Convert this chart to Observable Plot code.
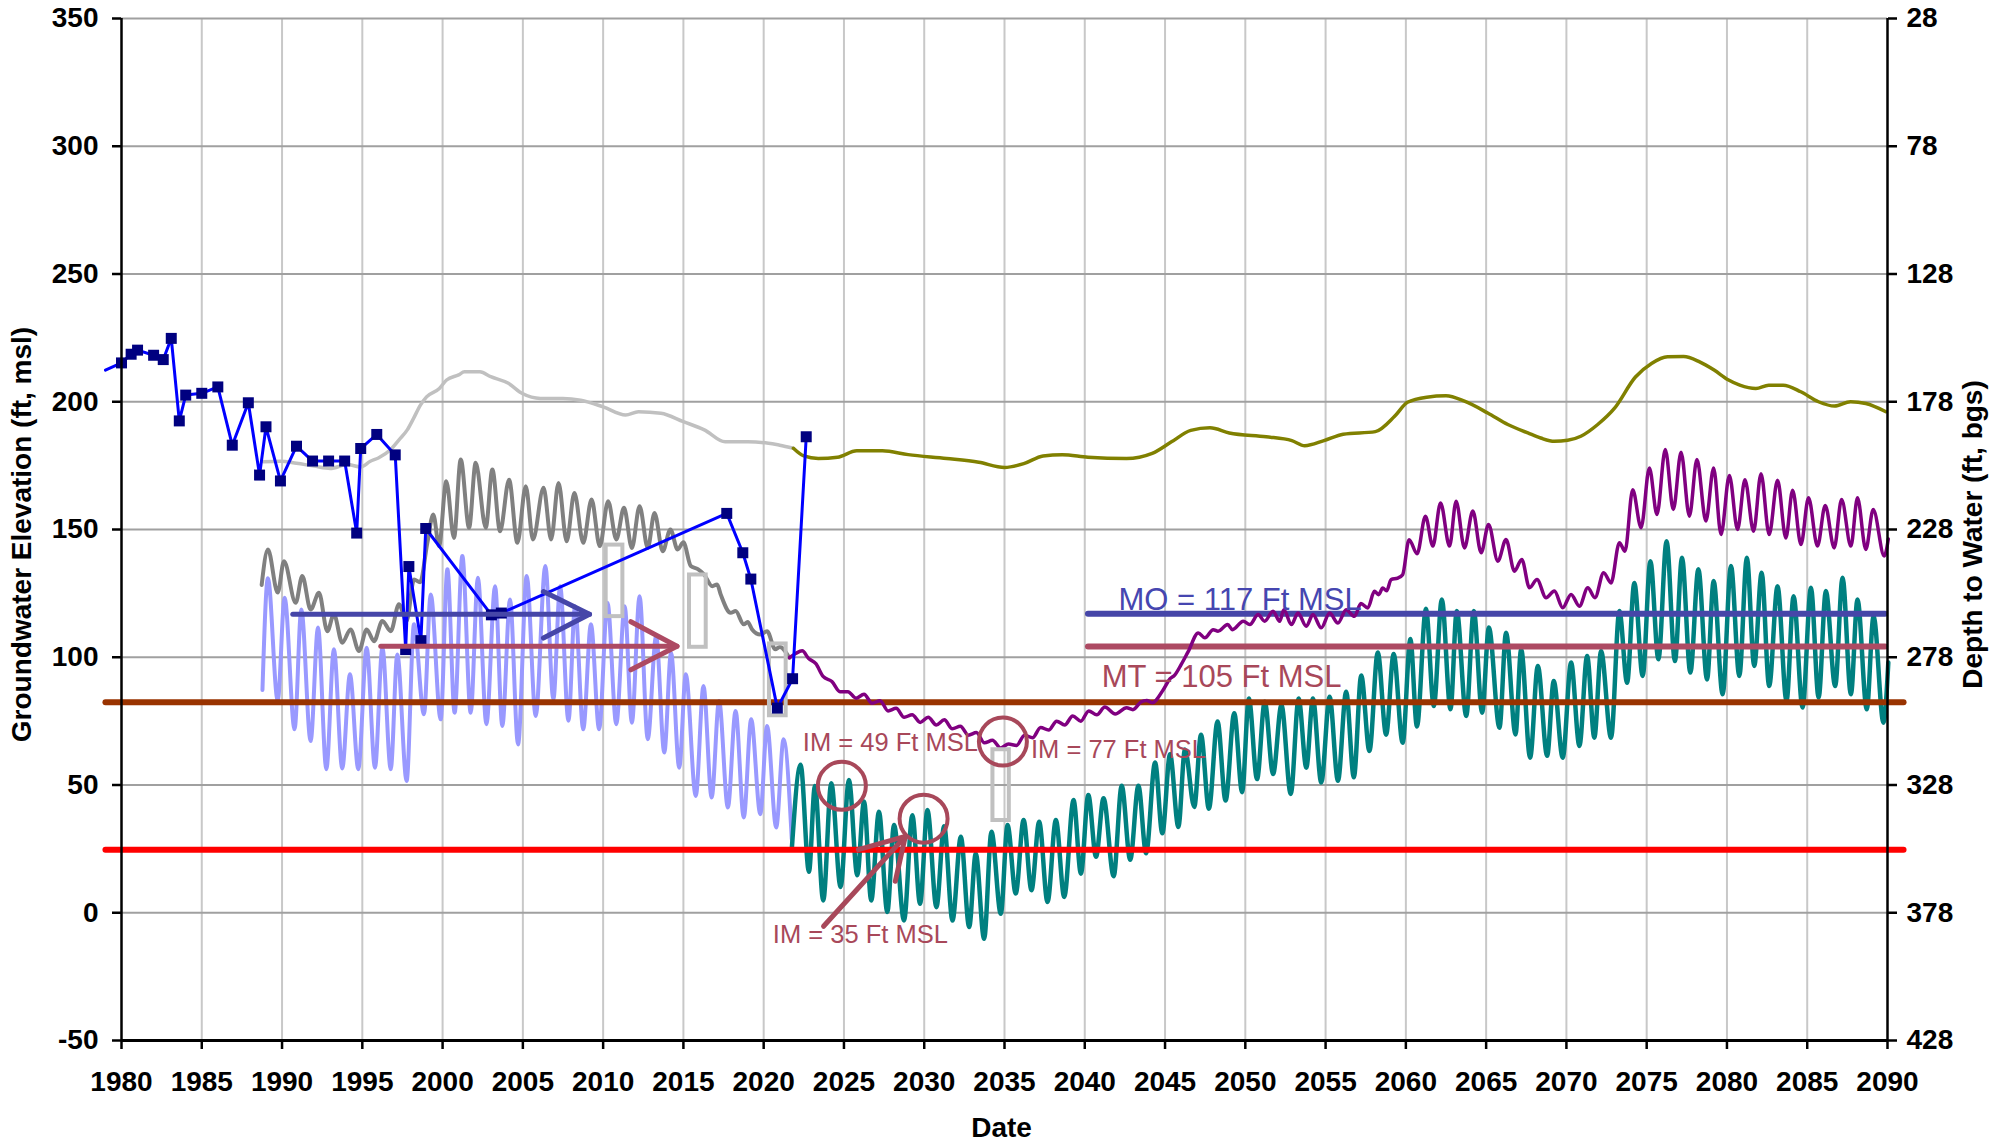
<!DOCTYPE html>
<html><head><meta charset="utf-8">
<script src="https://cdn.jsdelivr.net/npm/d3@7"></script>
<script src="https://cdn.jsdelivr.net/npm/@observablehq/plot@0.6"></script>
<style>
html,body{margin:0;padding:0;background:#fff;}
#chart svg{display:block;}
</style></head><body><div id="chart"></div>
<script>
// ---- axes / ticks ----
const xTicks = [1980,1985,1990,1995,2000,2005,2010,2015,2020,2025,2030,2035,2040,2045,2050,2055,2060,2065,2070,2075,2080,2085,2090];
const yTicks = [-50,0,50,100,150,200,250,300,350];
const depthTickLabels = ["428","378","328","278","228","178","128","78","28"];

// ---- observed groundwater elevation (line + square markers) ----
const observedStart = [[1979.0,212.4]];
const observed = [[1980.0,215.2],[1980.6,218.6],[1981.0,220.2],[1982.0,218.2],[1982.6,216.5],[1983.1,224.8],[1983.6,192.5],[1984.0,202.6],[1985.0,203.3],[1986.0,205.8],[1986.9,183.0],[1987.9,199.6],[1988.6,171.3],[1989.0,190.2],[1989.9,169.0],[1990.9,182.6],[1991.9,176.8],[1992.9,176.8],[1993.9,176.8],[1994.65,148.6],[1994.9,181.7],[1995.9,187.2],[1997.05,179.2],[1997.7,103.0],[1997.9,135.5],[1998.65,106.5],[1998.95,150.4],[2003.04,116.6],[2003.66,117.3],[2017.7,156.3],[2018.7,140.9],[2019.2,130.6],[2020.85,80.1],[2021.8,91.6],[2022.65,186.3]];

// ---- historical simulated (light gray) and projected (olive) ----
const histSmooth = [[1988.84,176.5],[1989.9,176.7],[1990.9,175.9],[1992.0,174.8],[1993.0,173.9],[1994.07,175.4],[1994.9,174.5],[1995.5,176.7],[1996.0,178.0],[1996.77,181.3],[1997.3,185.2],[1997.8,189.0],[1998.2,193.6],[1998.6,198.5],[1999.0,201.9],[1999.8,205.2],[2000.25,208.5],[2001.0,210.5],[2001.36,211.7],[2002.33,211.7],[2003.0,209.8],[2004.1,207.2],[2004.97,203.2],[2006.1,201.3],[2007.5,201.3],[2008.6,200.6],[2010.0,198.0],[2011.4,194.8],[2012.2,196.1],[2013.6,195.5],[2015.0,192.2],[2016.3,189.0],[2017.6,184.3],[2019.0,184.3],[2020.3,183.8],[2021.0,183.0],[2021.85,181.8]];
const projSmooth = [[2021.85,181.8],[2022.5,178.8],[2023.4,177.8],[2024.6,178.3],[2025.8,180.8],[2027.4,180.8],[2029.0,179.3],[2031.4,177.8],[2033.4,176.3],[2035.0,174.3],[2036.2,175.8],[2037.4,178.8],[2038.6,179.3],[2040.2,178.3],[2042.6,177.8],[2044.2,179.8],[2045.4,184.3],[2046.6,188.8],[2047.8,189.8],[2049.0,187.8],[2051.3,186.3],[2052.9,184.8],[2053.7,182.8],[2054.9,184.8],[2056.1,187.3],[2058.1,188.3],[2059.3,194.3],[2060.1,199.8],[2061.3,201.8],[2062.5,202.3],[2063.65,200.2],[2065.1,195.6],[2066.35,191.1],[2067.6,187.8],[2068.4,185.8],[2069.25,184.5],[2070.08,184.9],[2070.9,186.5],[2071.95,191.1],[2073.0,197.5],[2074.3,209.7],[2075.3,215.0],[2076.3,217.6],[2077.3,217.7],[2078.3,215.6],[2079.2,212.4],[2080.1,208.5],[2080.8,206.5],[2081.8,205.2],[2082.6,206.5],[2083.5,206.5],[2084.6,203.9],[2085.7,200.0],[2086.7,198.3],[2087.7,200.0],[2088.65,199.3],[2089.9,196.1]];

// ---- historical simulated, seasonal (dark gray) and projected (purple) ----
const histGray = [[1988.73,128.3],[1989.12,142.2],[1989.73,125.3],[1990.12,137.6],[1990.85,121.3],[1991.26,131.8],[1991.78,118.7],[1992.3,125.2],[1992.82,110.2],[1993.23,116.8],[1993.75,105.7],[1994.27,110.9],[1994.79,102.4],[1995.27,110.9],[1995.73,106.3],[1996.25,114.2],[1996.77,110.2],[1997.28,120.7],[1997.76,114.2],[1998.22,130.4],[1998.6,129.4],[1999.05,144.8],[1999.42,155.9],[1999.78,143.5],[2000.23,168.9],[2000.71,146.7],[2001.13,177.4],[2001.65,150.7],[2002.06,176.1],[2002.69,150.7],[2003.1,173.5],[2003.58,149.3],[2004.14,169.5],[2004.66,144.8],[2005.18,166.9],[2005.63,146.1],[2006.29,166.3],[2006.76,146.1],[2007.22,168.2],[2007.73,145.4],[2008.21,164.3],[2008.76,144.8],[2009.28,161.7],[2009.79,143.5],[2010.31,161.1],[2010.82,146.1],[2011.3,158.5],[2011.79,142.8],[2012.27,159.1],[2012.78,142.8],[2013.2,156.5],[2013.71,141.5],[2014.19,150.0],[2014.64,142.2],[2015.0,145.0],[2015.46,135.7],[2015.9,134.5],[2016.29,132.4],[2016.8,127.8],[2017.1,128.5],[2017.32,124.6],[2017.94,117.4],[2018.25,118.1],[2018.76,112.9],[2019.0,113.8],[2019.28,110.9],[2019.79,108.9],[2020.21,110.2],[2020.72,103.1],[2021.0,104.0],[2021.6,99.8]];
const projPurple = [[2021.6,99.8],[2022.0,101.5],[2022.4,102.5],[2022.8,99.5],[2023.25,97.5],[2023.7,92.5],[2024.25,90.5],[2024.75,86.5],[2025.25,86.5],[2025.75,84.0],[2026.25,85.5],[2026.75,82.0],[2027.25,83.0],[2027.75,79.0],[2028.25,80.0],[2028.75,76.5],[2029.25,77.5],[2029.75,74.5],[2030.25,76.5],[2030.75,73.5],[2031.25,75.5],[2031.75,72.0],[2032.25,73.0],[2032.75,69.5],[2033.25,70.5],[2033.75,66.5],[2034.25,67.5],[2034.75,64.5],[2035.25,66.0],[2035.75,65.5],[2036.25,69.5],[2036.75,68.5],[2037.25,72.5],[2037.75,71.5],[2038.25,75.0],[2038.75,73.5],[2039.25,77.0],[2039.75,75.0],[2040.25,79.0],[2040.75,77.5],[2041.25,80.5],[2041.9,77.8],[2042.6,80.2],[2043.0,79.5],[2043.5,82.5],[2043.86,83.1],[2044.2,82.2],[2044.9,87.4],[2045.3,91.5],[2045.6,93.0],[2046.0,97.1],[2046.45,102.3],[2047.07,109.5],[2047.48,107.6],[2048.0,110.8],[2048.3,110.2],[2048.9,112.8],[2049.2,110.8],[2049.87,114.1],[2050.28,112.8],[2050.8,116.7],[2051.2,114.1],[2051.73,118.0],[2052.14,114.1],[2052.4,118.6],[2052.87,112.8],[2053.28,117.3],[2053.8,112.1],[2054.21,116.7],[2054.73,111.5],[2055.25,117.3],[2055.77,113.4],[2056.28,118.6],[2056.8,116.0],[2057.2,121.0],[2057.63,119.3],[2058.04,125.8],[2058.3,124.5],[2058.56,127.1],[2058.8,126.0],[2059.08,130.4],[2059.5,131.0],[2059.8,132.3],[2060.2,146.0],[2060.7,140.5],[2061.22,155.2],[2061.68,143.5],[2062.16,160.4],[2062.72,143.5],[2063.13,161.1],[2063.65,142.8],[2064.17,157.2],[2064.69,140.9],[2065.15,152.0],[2065.73,137.6],[2066.24,146.1],[2066.76,133.7],[2067.22,138.3],[2067.7,127.2],[2068.17,130.4],[2068.73,123.3],[2069.25,125.9],[2069.77,119.4],[2070.29,124.6],[2070.81,120.0],[2071.33,127.2],[2071.78,123.3],[2072.32,133.1],[2072.78,129.1],[2073.3,144.8],[2073.65,141.5],[2074.13,165.6],[2074.65,150.7],[2075.17,174.1],[2075.64,155.9],[2076.16,181.3],[2076.66,157.8],[2077.14,180.2],[2077.66,155.2],[2078.13,177.4],[2078.69,153.3],[2079.17,174.1],[2079.63,148.0],[2080.15,171.1],[2080.66,150.0],[2081.12,169.5],[2081.66,149.3],[2082.12,171.8],[2082.63,148.0],[2083.15,169.3],[2083.67,146.7],[2084.09,165.4],[2084.61,144.1],[2085.08,162.4],[2085.64,143.5],[2086.12,159.4],[2086.68,142.8],[2087.14,161.7],[2087.72,143.5],[2088.13,162.4],[2088.65,142.2],[2089.11,157.8],[2089.8,139.6],[2090.05,146.3]];

// ---- historical simulated, second well (light blue) and projected (teal) ----
const histLightBlue = [[1988.78,87.2],[1989.12,130.9],[1989.73,83.1],[1990.16,123.3],[1990.78,71.8],[1991.2,118.7],[1991.78,67.2],[1992.24,111.6],[1992.76,56.2],[1993.23,103.1],[1993.75,56.5],[1994.23,93.3],[1994.75,56.2],[1995.27,103.7],[1995.79,56.8],[1996.25,103.7],[1996.77,56.2],[1997.18,101.1],[1997.76,51.6],[1998.22,112.9],[1998.84,77.7],[1999.26,124.6],[1999.88,75.7],[2000.3,134.4],[2000.75,78.3],[2001.23,139.6],[2001.75,78.3],[2002.2,131.1],[2002.73,73.8],[2003.27,127.8],[2003.72,73.1],[2004.2,122.6],[2004.7,65.9],[2005.24,131.8],[2005.8,77.0],[2006.4,135.7],[2006.9,83.5],[2007.32,127.8],[2007.84,75.1],[2008.25,120.0],[2008.76,71.8],[2009.24,112.9],[2009.75,71.8],[2010.27,121.3],[2010.82,73.8],[2011.34,120.0],[2011.79,74.4],[2012.27,123.9],[2012.78,67.9],[2013.3,108.3],[2013.81,62.7],[2014.23,101.8],[2014.74,56.8],[2015.15,93.3],[2015.77,45.7],[2016.25,88.7],[2016.76,45.1],[2017.22,82.9],[2017.77,41.2],[2018.25,79.0],[2018.76,37.3],[2019.22,75.7],[2019.79,38.6],[2020.21,73.1],[2020.78,33.4],[2021.24,67.9],[2021.75,28.8]];
const projTeal = [[2021.75,24.8],[2022.3,57.9],[2022.82,16.0],[2023.19,49.6],[2023.71,4.8],[2024.21,50.7],[2024.79,10.1],[2025.31,52.0],[2025.83,14.7],[2026.25,43.5],[2026.7,4.8],[2027.18,39.5],[2027.7,0.3],[2028.12,34.3],[2028.74,-3.0],[2029.26,38.2],[2029.74,3.5],[2030.2,40.2],[2030.76,2.2],[2031.24,33.9],[2031.76,-3.0],[2032.28,29.7],[2032.8,-5.6],[2033.21,23.2],[2033.73,-10.2],[2034.19,31.7],[2034.77,-0.4],[2035.19,34.3],[2035.7,7.5],[2036.19,36.3],[2036.68,8.8],[2037.16,35.6],[2037.68,4.2],[2038.2,36.3],[2038.72,6.2],[2039.3,44.1],[2039.76,15.3],[2040.22,46.1],[2040.7,21.9],[2041.17,44.8],[2041.8,14.3],[2042.3,49.7],[2042.83,20.7],[2043.34,49.7],[2043.82,23.3],[2044.38,58.8],[2044.83,31.1],[2045.31,62.0],[2045.83,33.6],[2046.24,63.9],[2046.82,41.4],[2047.24,69.7],[2047.73,40.7],[2048.27,74.9],[2048.77,43.9],[2049.31,78.1],[2049.8,47.2],[2050.22,83.9],[2050.73,52.3],[2051.21,82.6],[2051.73,54.3],[2052.25,81.3],[2052.83,46.5],[2053.32,83.9],[2053.8,56.8],[2054.21,83.9],[2054.73,51.0],[2055.25,84.5],[2055.77,51.7],[2056.28,86.5],[2056.76,53.0],[2057.22,92.9],[2057.73,63.3],[2058.25,101.9],[2058.77,69.7],[2059.24,101.3],[2059.8,66.5],[2060.28,107.1],[2060.69,72.9],[2061.25,119.0],[2061.74,80.9],[2062.24,122.6],[2062.78,79.6],[2063.17,118.1],[2063.76,77.0],[2064.23,118.1],[2064.75,78.3],[2065.17,111.6],[2065.83,72.4],[2066.24,109.6],[2066.83,69.8],[2067.18,103.1],[2067.74,60.7],[2068.22,96.6],[2068.8,61.4],[2069.21,90.7],[2069.77,60.7],[2070.29,97.9],[2070.81,65.3],[2071.29,100.5],[2071.74,68.5],[2072.16,102.4],[2072.78,68.5],[2073.3,118.1],[2073.78,90.0],[2074.23,129.1],[2074.75,92.7],[2075.23,137.6],[2075.73,99.2],[2076.24,145.4],[2076.76,98.5],[2077.2,138.9],[2077.72,94.0],[2078.22,134.4],[2078.76,91.3],[2079.17,129.8],[2079.73,85.5],[2080.25,135.7],[2080.77,92.7],[2081.24,138.9],[2081.7,96.6],[2082.16,133.1],[2082.63,88.7],[2083.15,127.8],[2083.71,82.9],[2084.15,123.9],[2084.71,80.3],[2085.23,127.2],[2085.71,84.2],[2086.16,125.9],[2086.74,88.7],[2087.2,131.1],[2087.72,85.5],[2088.13,122.6],[2088.71,79.6],[2089.13,116.1],[2089.75,74.4],[2090.05,97.9]];

// ---- threshold lines ----
const brownLine = [[1979.0,82.4],[2091.0,82.4]];
const redLine = [[1979.0,24.7],[2091.0,24.7]];
const moLine = [[2040.2,117.0],[2089.85,117.0]];
const mtLine = [[2040.2,104.2],[2089.85,104.2]];

// ---- annotation shapes ----
const blueArrowShaft = [[1990.67,116.8],[2009.15,116.8]];
const blueArrowHead = [[2006.28,125.7],[2009.15,116.8],[2006.28,107.5]];
const redArrowShaft = [[1996.15,104.3],[2014.6,104.3]];
const redArrowHead = [[2011.73,113.9],[2014.6,104.3],[2011.73,95.1]];
const pointerShaft = [[2023.73,-5.3],[2028.82,29.9]];
const pointerHead = [[2025.9,24.7],[2028.82,29.9],[2028.2,12.3]];
const grayBoxes = [[2010.19,2011.23,115.9,143.9],[2015.38,2016.42,103.9,132.2],[2020.36,2021.4,77.1,105.2],[2034.28,2035.3,36.1,63.8]];
const circleCenters = [[2024.87,49.7],[2029.96,36.8],[2034.9,67.0]];

// ---- annotation texts ----
const bigLabels = [
  {x: 2042.1, y: 118.3, text: "MO = 117 Ft MSL", color: "#4646b0"},
  {x: 2041.05, y: 88.5, text: "MT = 105 Ft MSL", color: "#a8485a"}
];
const imLabels = [
  {x: 2022.44, y: 63.5, text: "IM = 49 Ft MSL"},
  {x: 2036.65, y: 60.5, text: "IM = 77 Ft MSL"},
  {x: 2020.57, y: -11.8, text: "IM = 35 Ft MSL"}
];

const P = a => a.map(([x, y]) => ({x, y}));
const boxes = grayBoxes.map(([x1, x2, y1, y2]) => ({x1, x2, y1, y2}));

const chart = Plot.plot({
  width: 2006,
  height: 1143,
  marginLeft: 121,
  marginRight: 119,
  marginTop: 18,
  marginBottom: 103,
  x: {domain: [1980, 2090]},
  y: {domain: [-50, 350]},
  style: {fontFamily: "'Liberation Sans', Arial, sans-serif", fontSize: "28px", fontWeight: "bold", color: "#000", background: "#fff"},
  marks: [
    Plot.ruleX(xTicks.slice(1, -1), {stroke: "#c8c8c8", strokeWidth: 2}),
    Plot.ruleY(yTicks.slice(1), {stroke: "#a0a0a0", strokeWidth: 2}),

    Plot.line(P(histLightBlue), {x: "x", y: "y", stroke: "#9999ff", strokeWidth: 4, curve: "monotone-x"}),
    Plot.line(P(histGray), {x: "x", y: "y", stroke: "#808080", strokeWidth: 4, curve: "monotone-x"}),
    Plot.line(P(histSmooth), {x: "x", y: "y", stroke: "#c0c0c0", strokeWidth: 3.5, curve: "monotone-x"}),
    Plot.line(P(projSmooth), {x: "x", y: "y", stroke: "#808000", strokeWidth: 3.5, curve: "monotone-x"}),
    Plot.line(P(projTeal), {x: "x", y: "y", stroke: "#008080", strokeWidth: 4.5, curve: "monotone-x"}),

    Plot.line(P(brownLine), {x: "x", y: "y", stroke: "#993300", strokeWidth: 6}),
    Plot.line(P(redLine), {x: "x", y: "y", stroke: "#ff0000", strokeWidth: 6}),
    Plot.line(P(moLine), {x: "x", y: "y", stroke: "#4646a8", strokeWidth: 6}),
    Plot.line(P(mtLine), {x: "x", y: "y", stroke: "#ad4a63", strokeWidth: 6}),

    Plot.line(P(projPurple), {x: "x", y: "y", stroke: "#800080", strokeWidth: 3.5, curve: "monotone-x"}),

    Plot.rect(boxes, {x1: "x1", x2: "x2", y1: "y1", y2: "y2", fill: "none", stroke: "#c0c0c0", strokeWidth: 4}),

    Plot.line(P(observedStart.concat(observed)), {x: "x", y: "y", stroke: "#0000ff", strokeWidth: 3}),
    Plot.dot(P(observed), {x: "x", y: "y", symbol: "square", r: 6.2, fill: "#000080", stroke: "none"}),

    Plot.line(P(blueArrowShaft), {x: "x", y: "y", stroke: "#4646a8", strokeWidth: 5}),
    Plot.line(P(blueArrowHead), {x: "x", y: "y", stroke: "#4646a8", strokeWidth: 5}),
    Plot.line(P(redArrowShaft), {x: "x", y: "y", stroke: "#ad4a63", strokeWidth: 5}),
    Plot.line(P(redArrowHead), {x: "x", y: "y", stroke: "#ad4a63", strokeWidth: 5}),
    Plot.line(P(pointerShaft), {x: "x", y: "y", stroke: "#a8485a", strokeWidth: 5}),
    Plot.line(P(pointerHead), {x: "x", y: "y", stroke: "#a8485a", strokeWidth: 5}),
    Plot.dot(P(circleCenters), {x: "x", y: "y", r: 24, fill: "none", stroke: "#a8485a", strokeWidth: 4}),

    Plot.text(bigLabels, {x: "x", y: "y", text: "text", fill: "color", fontSize: 31, fontWeight: "normal", textAnchor: "start", lineAnchor: "bottom"}),
    Plot.text(imLabels, {x: "x", y: "y", text: "text", fill: "#a8485a", fontSize: 25.5, fontWeight: "normal", textAnchor: "start", lineAnchor: "bottom"}),

    Plot.ruleX([1980], {stroke: "#000", strokeWidth: 2.5}),
    Plot.ruleX([2090], {stroke: "#000", strokeWidth: 2.5}),
    Plot.ruleY([-50], {stroke: "#000", strokeWidth: 3}),

    Plot.axisY({ticks: yTicks, tickSize: 9, tickPadding: 14, strokeWidth: 2.5, label: null, tickFormat: d => String(d)}),
    Plot.axisY({anchor: "right", ticks: yTicks, tickSize: 9, tickPadding: 10, strokeWidth: 2.5, label: null, tickFormat: d => depthTickLabels[yTicks.indexOf(d)]}),
    Plot.axisX({ticks: xTicks, tickSize: 9, tickPadding: 22, strokeWidth: 2.5, label: null, tickFormat: d => String(d)}),

    Plot.text(["Groundwater Elevation (ft, msl)"], {text: d => d, frameAnchor: "left", dx: -99, dy: 5, rotate: -90, textAnchor: "middle", lineAnchor: "middle", fontSize: 28, fontWeight: "bold"}),
    Plot.text(["Depth to Water (ft, bgs)"], {text: d => d, frameAnchor: "right", dx: 86, dy: 5, rotate: -90, textAnchor: "middle", lineAnchor: "middle", fontSize: 28, fontWeight: "bold"}),
    Plot.text(["Date"], {text: d => d, frameAnchor: "bottom", dx: -3, dy: 96, textAnchor: "middle", lineAnchor: "bottom", fontSize: 28, fontWeight: "bold"})
  ]
});
document.getElementById("chart").appendChild(chart);
</script>
</body></html>
